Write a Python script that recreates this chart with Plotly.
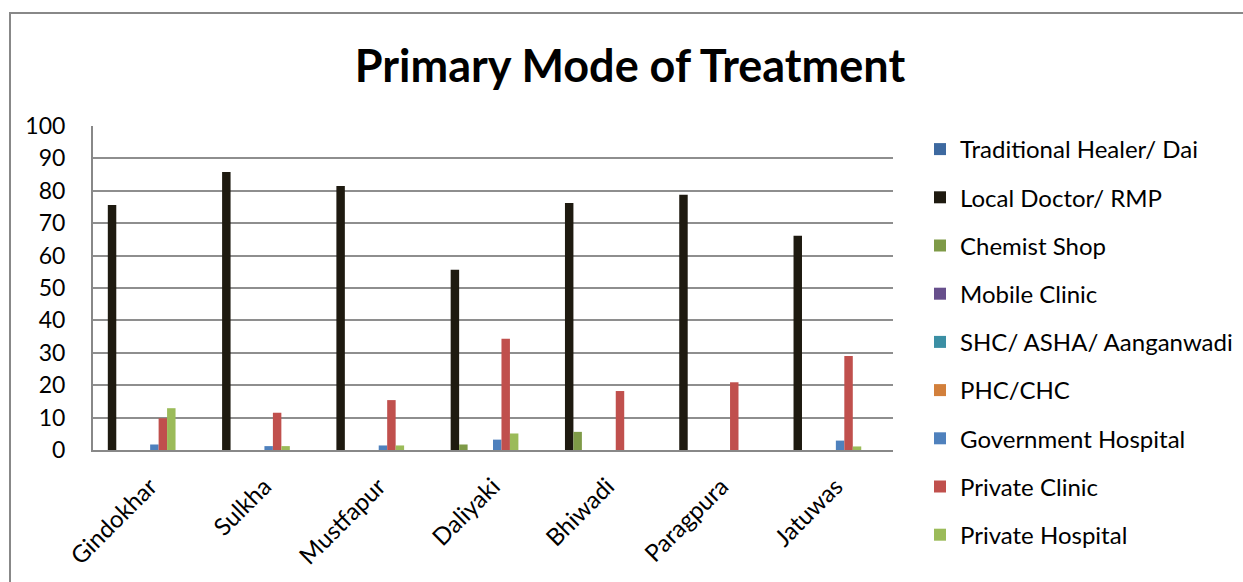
import plotly.graph_objects as go

villages = ["Gindokhar", "Sulkha", "Mustfapur", "Daliyaki", "Bhiwadi", "Paragpura", "Jatuwas"]

traditional_healer = [0, 0, 0, 0, 0, 0, 0]
local_doctor = [75.6, 85.8, 81.5, 55.6, 76.2, 78.8, 66.1]
chemist_shop = [0, 0, 0, 1.7, 5.6, 0, 0]
mobile_clinic = [0, 0, 0, 0, 0, 0, 0]
shc_asha = [0, 0, 0, 0, 0, 0, 0]
phc_chc = [0, 0, 0, 0, 0, 0, 0]
govt_hospital = [1.7, 1.2, 1.4, 3.2, 0, 0, 2.9]
private_clinic = [9.8, 11.5, 15.4, 34.3, 18.2, 20.9, 29.0]
private_hospital = [12.9, 1.2, 1.4, 5.1, 0, 0, 1.1]

y_ticks = [0, 10, 20, 30, 40, 50, 60, 70, 80, 90, 100]

series = [
    ("Traditional Healer/ Dai", traditional_healer, "#3D69A0"),
    ("Local Doctor/ RMP", local_doctor, "#1E1A10"),
    ("Chemist Shop", chemist_shop, "#7E9A47"),
    ("Mobile Clinic", mobile_clinic, "#674F8C"),
    ("SHC/ ASHA/ Aanganwadi", shc_asha, "#3B8FA4"),
    ("PHC/CHC", phc_chc, "#D27F3B"),
    ("Government Hospital", govt_hospital, "#4F81BD"),
    ("Private Clinic", private_clinic, "#C0504D"),
    ("Private Hospital", private_hospital, "#9BBB59"),
]

# Twelve slots per category (three unused) with a 150% gap between groups
slots = 12
bar_w = 1.0 / (slots + 1.5)

fig = go.Figure()
for k, (name, vals, color) in enumerate(series):
    fig.add_trace(go.Bar(
        x=villages, y=vals, name=name,
        marker=dict(color=color, line=dict(width=0)),
        width=bar_w, offset=(k - slots / 2) * bar_w,
        legendgroup=name,
    ))

FONT = "Lato"
W, H = 1243, 582
L, R, T, B = 93, 350, 126, 132
PW, PH = W - L - R, H - T - B

def px(x):
    return (x - L) / PW

def py(y):
    return (H - B - y) / PH

fig.update_layout(
    width=W, height=H,
    margin=dict(l=L, r=R, t=T, b=B, pad=0, autoexpand=False),
    barmode="overlay",
    paper_bgcolor="white", plot_bgcolor="white",
    font=dict(family=FONT, color="black"),
    title=dict(text="<b>Primary Mode of Treatment</b>", xref="container", x=630 / W,
               xanchor="center", yref="container", y=1 - 66 / H, yanchor="middle",
               font=dict(size=45, family=FONT)),
    xaxis=dict(range=[-0.5, 6.5], tickangle=-45, tickfont=dict(size=24),
               showline=True, linecolor="#888888", linewidth=2, showgrid=False,
               ticks="", ticklabelstandoff=11, automargin=False),
    yaxis=dict(range=[0, 100], tickvals=y_ticks, tickfont=dict(size=23),
               showgrid=True, gridcolor="#8E8E8E", gridwidth=2,
               showline=True, linecolor="#888888", linewidth=2,
               zeroline=False, ticks="", ticklabelstandoff=21, automargin=False),
    legend=dict(x=px(920), xanchor="left", y=py(127), yanchor="top",
                font=dict(size=24), tracegroupgap=14, traceorder="grouped",
                maxheight=600, bgcolor="rgba(0,0,0,0)"),
    shapes=[dict(type="rect", xref="paper", yref="paper",
                 x0=px(10), x1=px(1260), y0=py(600), y1=py(13),
                 line=dict(color="#888888", width=2), layer="below")],
)

fig.write_html("out.html")
